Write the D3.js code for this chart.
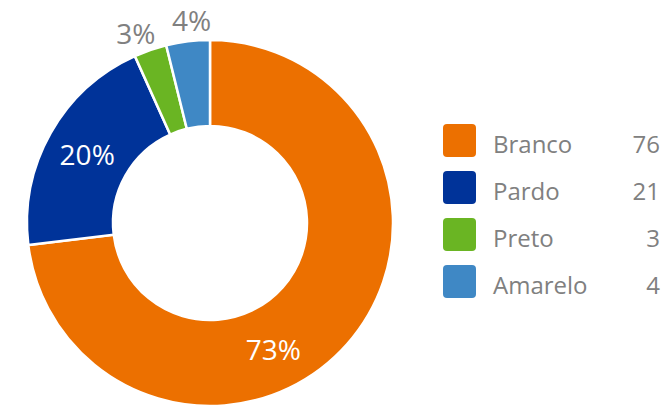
<!DOCTYPE html>
<html>
<head>
<meta charset="utf-8">
<script src="https://cdn.jsdelivr.net/npm/d3@7"></script>
<style>
  body { margin: 0; background: #fff; }
  svg { display: block; font-family: "Open Sans", sans-serif; }
</style>
</head>
<body>
<svg id="chart" width="668" height="405"></svg>
<script>
var categories = ["Branco", "Pardo", "Preto", "Amarelo"];
var values = [76, 21, 3, 4];
var colors = ["#ec7000", "#003399", "#6ab523", "#3f88c5"];

var svg = d3.select("#chart");
var cx = 210, cy = 223;
var outerR = 183, innerR = 97;
var total = d3.sum(values);

var data = categories.map(function(c, i) {
  return { name: c, value: values[i], color: colors[i] };
});

var pie = d3.pie().sort(null).value(function(d) { return d.value; });
var arc = d3.arc().innerRadius(innerR).outerRadius(outerR);
var arcs = pie(data);

var g = svg.append("g").attr("transform", "translate(" + cx + "," + cy + ")");

g.selectAll("path")
  .data(arcs)
  .enter()
  .append("path")
  .attr("d", arc)
  .attr("fill", function(d) { return d.data.color; })
  .attr("stroke", "#fff")
  .attr("stroke-width", 2.5);

// labels: big slices inside (white), thin ones outside (grey)
function labelPos(d) {
  var share = d.value / total;
  var a = (d.startAngle + d.endAngle) / 2;
  var r = share > 0.1 ? 141 : 204;
  if (d.data.name == "Branco") a += 0.38;   // the original tool pushes this one down
  if (d.data.name == "Preto") a -= 0.04;
  if (d.data.name == "Amarelo") a += 0.03;
  return [Math.sin(a) * r, -Math.cos(a) * r];
}

g.selectAll("text.pct")
  .data(arcs)
  .enter()
  .append("text")
  .attr("class", "pct")
  .attr("transform", function(d) { return "translate(" + labelPos(d) + ")"; })
  .attr("text-anchor", "middle")
  .attr("dominant-baseline", "central")
  .attr("font-size", 28)
  .attr("fill", function(d) { return d.value / total > 0.1 ? "#fff" : "#808080"; })
  .text(function(d) { return Math.round(d.value / total * 100) + "%"; });

// legend
var legend = svg.append("g");
var rows = legend.selectAll("g")
  .data(data)
  .enter()
  .append("g")
  .attr("transform", function(d, i) { return "translate(443," + (124 + i * 47) + ")"; });

rows.append("rect")
  .attr("width", 33)
  .attr("height", 33)
  .attr("rx", 4)
  .attr("fill", function(d) { return d.color; });

rows.append("text")
  .attr("x", 50)
  .attr("y", 19)
  .attr("dominant-baseline", "central")
  .attr("font-size", 24)
  .attr("fill", "#808080")
  .text(function(d) { return d.name; });

rows.append("text")
  .attr("x", 217)
  .attr("y", 19)
  .attr("text-anchor", "end")
  .attr("dominant-baseline", "central")
  .attr("font-size", 24)
  .attr("fill", "#808080")
  .text(function(d) { return d.value; });
</script>
</body>
</html>
